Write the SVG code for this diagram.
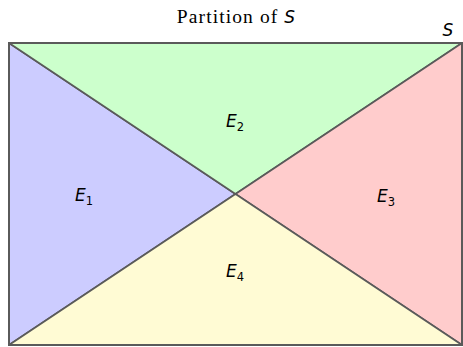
<svg xmlns="http://www.w3.org/2000/svg" width="463" height="347" viewBox="0 0 463 347">
<style>
.reg{stroke:#5a5a5a;stroke-width:1.6;stroke-linejoin:round}
.lbl{font-family:"DejaVu Sans",sans-serif;font-style:italic;font-size:17px;fill:#000}
.sub{font-style:normal;font-size:11.5px}
.ttl{font-family:"Liberation Serif","Times New Roman",serif;font-size:19.5px;letter-spacing:1.1px;fill:#000}
</style>
<rect width="463" height="347" fill="#fff"/>
<text x="236" y="23" text-anchor="middle" class="ttl">Partition of <tspan font-family="DejaVu Sans, sans-serif" font-style="italic" font-size="17" letter-spacing="0">S</tspan></text>
<text x="448" y="36" text-anchor="middle" class="lbl">S</text>
<g id="E1"><polygon class="reg" fill="#ccccff" points="9,43 235.5,194 9,345"/><text class="lbl" x="75" y="201">E<tspan class="sub" dy="4">1</tspan></text></g>
<g id="E2"><polygon class="reg" fill="#ccffcc" points="9,43 462,43 235.5,194"/><text class="lbl" x="226" y="127">E<tspan class="sub" dy="4">2</tspan></text></g>
<g id="E3"><polygon class="reg" fill="#ffcccc" points="462,43 462,345 235.5,194"/><text class="lbl" x="377" y="202">E<tspan class="sub" dy="4">3</tspan></text></g>
<g id="E4"><polygon class="reg" fill="#fffbd4" points="9,345 235.5,194 462,345"/><text class="lbl" x="226" y="277">E<tspan class="sub" dy="4">4</tspan></text></g>
<g id="connectors"><rect x="9" y="43" width="453" height="302" fill="none" stroke="#5a5a5a" stroke-width="2"/></g>
</svg>
